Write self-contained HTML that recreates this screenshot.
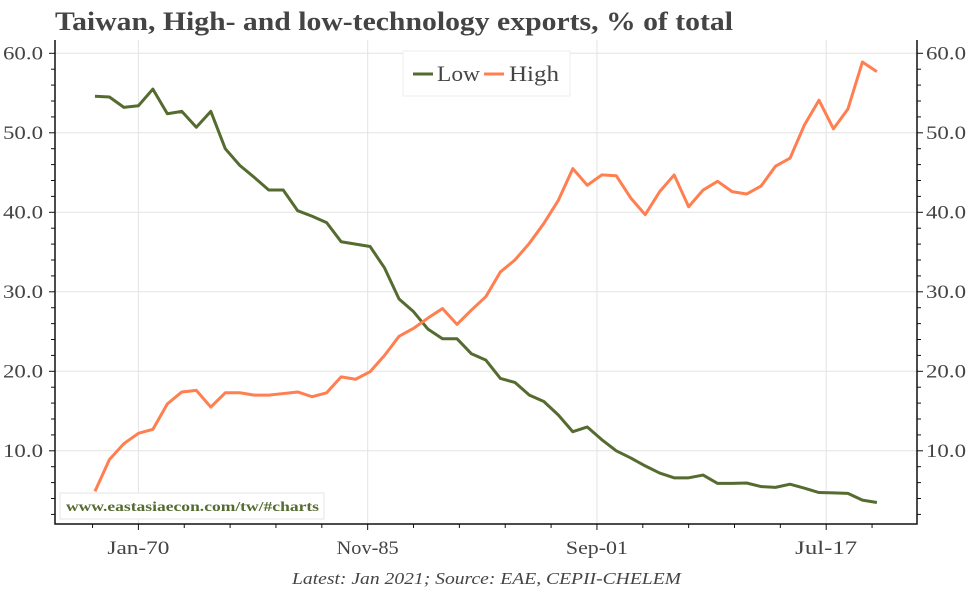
<!DOCTYPE html>
<html><head><meta charset="utf-8"><style>
body{margin:0;background:#fff;}
svg text{font-family:"Liberation Serif",serif;}
</style></head><body>
<svg width="972" height="589" xmlns="http://www.w3.org/2000/svg">
<text x="55" y="30" font-size="26" font-weight="bold" fill="#444" textLength="678" lengthAdjust="spacingAndGlyphs">Taiwan, High- and low-technology exports, % of total</text>
<g id="grid"></g>
<g id="axes"></g>
<g id="series"></g>
<g>
<rect x="403" y="51" width="167" height="45" fill="#fff" stroke="#eee"/>
<line x1="413" y1="74" x2="433" y2="74" stroke="#556b2f" stroke-width="3"/>
<text x="437" y="81" font-size="22" fill="#444" textLength="43" lengthAdjust="spacingAndGlyphs">Low</text>
<line x1="484" y1="74" x2="504" y2="74" stroke="#ff7f50" stroke-width="3"/>
<text x="509" y="81" font-size="22" fill="#444" textLength="50" lengthAdjust="spacingAndGlyphs">High</text>
</g>
<rect x="60" y="493" width="264" height="26" fill="#fff" stroke="#e6e6e6"/>
<text x="66" y="511" font-size="14" font-weight="bold" fill="#556b2f" textLength="253" lengthAdjust="spacingAndGlyphs">www.eastasiaecon.com/tw/#charts</text>
<text x="292" y="584" font-size="17" font-style="italic" fill="#444" textLength="389" lengthAdjust="spacingAndGlyphs">Latest: Jan 2021; Source: EAE, CEPII-CHELEM</text>
</svg>
<script>
const years=[];for(let y=1967;y<=2021;y++)years.push(y);
const lowValues=[54.6,54.5,53.2,53.4,55.5,52.4,52.7,50.7,52.7,48.0,45.9,44.4,42.8,42.8,40.2,39.5,38.7,36.3,36.0,35.7,33.0,29.1,27.5,25.3,24.1,24.1,22.2,21.4,19.1,18.6,17.0,16.2,14.5,12.4,13.0,11.4,10.0,9.1,8.1,7.2,6.6,6.6,6.95,5.9,5.9,5.95,5.5,5.4,5.8,5.3,4.75,4.7,4.65,3.8,3.5];
const highValues=[4.9,8.9,10.9,12.2,12.7,15.9,17.4,17.6,15.5,17.3,17.3,17.0,17.0,17.2,17.4,16.8,17.3,19.3,19.0,19.95,22.0,24.4,25.4,26.7,27.9,25.9,27.7,29.4,32.5,34.0,36.1,38.6,41.5,45.5,43.4,44.7,44.6,41.8,39.7,42.6,44.7,40.7,42.8,43.9,42.6,42.3,43.3,45.8,46.8,51.0,54.1,50.5,53.0,58.9,57.7];
const yTicks=[10,20,30,40,50,60];
const yTickLabels=["10.0","20.0","30.0","40.0","50.0","60.0"];
const xTickYears=[1970,1985+10/12,2001+8/12,2017+6/12];
const xTickLabels=["Jan-70","Nov-85","Sep-01","Jul-17"];
const NS="http://www.w3.org/2000/svg";
const L=55,R=917,T=40,B=524;
function xs(y){return 138.4+(y-1970)*14.48;}
function ys(v){return 53.3+(60-v)*7.95;}
function mk(tag,attrs,parent){const e=document.createElementNS(NS,tag);for(const k in attrs)e.setAttribute(k,attrs[k]);parent.appendChild(e);return e;}
const grid=document.getElementById('grid'),axes=document.getElementById('axes'),ser=document.getElementById('series');
yTicks.forEach((v,i)=>{
 const g=mk('line',{x1:L,x2:R,y1:ys(v),y2:ys(v),stroke:'#e3e3e3','stroke-width':1},grid);
 
 
 const t1=mk('text',{x:L-52,y:ys(v)+6,'font-size':19,fill:'#444',textLength:40,lengthAdjust:'spacingAndGlyphs'},axes);t1.textContent=yTickLabels[i];
 
 
 const t2=mk('text',{x:R+9,y:ys(v)+6,'font-size':19,fill:'#444',textLength:40,lengthAdjust:'spacingAndGlyphs'},axes);t2.textContent=yTickLabels[i];
 
 
});
for(let v=2;v<=60;v+=2){const len=(v%10===0)?6:4;
 mk('line',{x1:L-len,x2:L,y1:ys(v),y2:ys(v),stroke:'#111'},axes);
 mk('line',{x1:R,x2:R+len,y1:ys(v),y2:ys(v),stroke:'#111'},axes);}
xTickYears.forEach((y,i)=>{
 const g=mk('line',{x1:xs(y),x2:xs(y),y1:T,y2:B,stroke:'#e3e3e3'},grid);
 
 
 const t=mk('text',{x:xs(y)-31,y:554,'font-size':19,fill:'#444',textLength:62,lengthAdjust:'spacingAndGlyphs'},axes);t.textContent=xTickLabels[i];
 
 
});
const step=(xTickYears[1]-xTickYears[0])/5;
for(let k=-1;k<=16;k++){const y=1970+k*step;const x=xs(y);if(x<L||x>R)continue;
 mk('line',{x1:x,x2:x,y1:B,y2:B+(k%5===0?6:4),stroke:'#111'},axes);}
mk('polyline',{points:`${L},${T} ${L},${B} ${R},${B} ${R},${T}`,fill:'none',stroke:'#111','stroke-width':1.5},axes);
const lowPath=mk('polyline',{points:years.map((y,i)=>xs(y)+','+ys(lowValues[i])).join(' '),fill:'none',stroke:'#556b2f','stroke-width':3,'stroke-linejoin':'round'},ser);


const highPath=mk('polyline',{points:years.map((y,i)=>xs(y)+','+ys(highValues[i])).join(' '),fill:'none',stroke:'#ff7f50','stroke-width':3,'stroke-linejoin':'round'},ser);


</script>
</body></html>
